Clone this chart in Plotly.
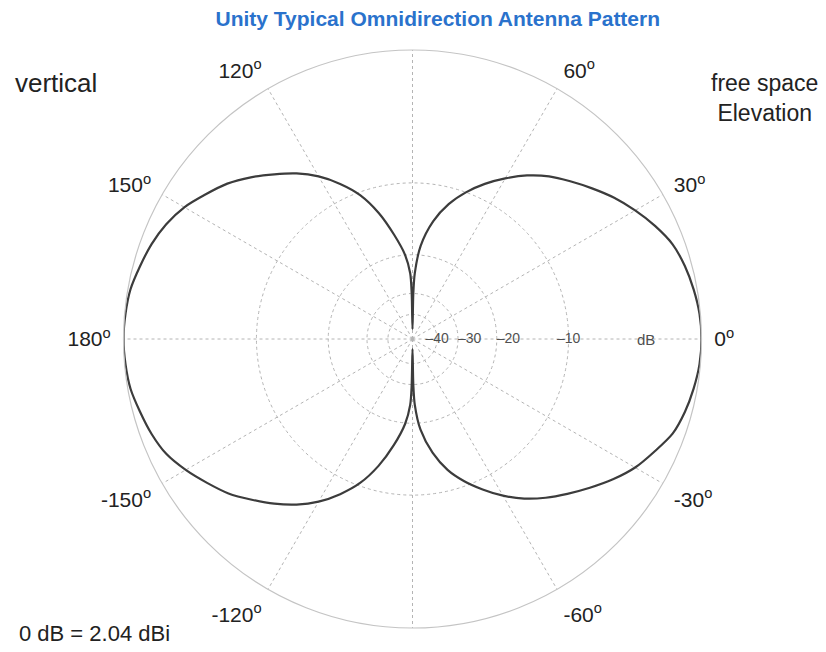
import plotly.graph_objects as go

# ---- data ----
angle_deg = [0, 5, 10, 15, 20, 25, 30, 35, 40, 45, 50, 55, 60, 65, 70, 75, 80, 85, 88, 89, 90,
             91, 92, 95, 100, 105, 110, 115, 120, 125, 130, 135, 140, 145, 150, 155, 160, 165, 170, 175, 180,
             185, 190, 195, 200, 205, 210, 215, 220, 225, 230, 235, 240, 245, 250, 255, 260, 265, 268, 269, 270,
             271, 272, 275, 280, 285, 290, 295, 300, 305, 310, 315, 320, 325, 330, 335, 340, 345, 350, 355, 360]
gain_db = [0.0, -0.05, -0.2, -0.4, -0.7, -1.25, -1.9, -2.6, -3.4, -4.2, -5.0, -6.0, -7.2, -8.5, -10.0, -11.8, -14.3, -18.3, -24.0, -30.0, -55.0,
           -30.0, -24.0, -20.0, -16.3, -12.9, -10.3, -8.5, -7.0, -5.8, -4.8, -3.8, -2.9, -2.2, -1.5, -1.0, -0.65, -0.4, -0.15, -0.05, 0.0,
           -0.05, -0.15, -0.4, -0.65, -1.0, -1.6, -2.3, -3.0, -3.9, -4.8, -5.8, -7.0, -8.5, -10.3, -12.8, -16.0, -19.8, -24.0, -30.0, -55.0,
           -30.0, -24.0, -18.8, -14.9, -12.3, -10.5, -9.0, -7.6, -6.4, -5.4, -4.5, -3.6, -2.7, -1.9, -1.3, -0.7, -0.4, -0.2, -0.05, 0.0]

radial_ticks_db = [-40, -30, -20, -10, 0]
radial_tick_text = ["\u201340", "\u201330", "\u201320", "\u201310"]

angle_ticks = [0, 30, 60, 90, 120, 150, 180, 210, 240, 270, 300, 330]
angle_tick_text = ["0<sup>o</sup>", "30<sup>o</sup>", "60<sup>o</sup>", "",
                   "120<sup>o</sup>", "150<sup>o</sup>", "180<sup>o</sup>",
                   "-150<sup>o</sup>", "-120<sup>o</sup>", "", "-60<sup>o</sup>",
                   "-30<sup>o</sup>"]

# log-periodic style radial scale: each 10 dB shrinks radius by this factor
STEP = 0.54
R_MAX = 1.0


def db_to_r(db):
    return STEP ** (-db / 10.0)


r_vals = [db_to_r(v) for v in gain_db]
tick_r = [db_to_r(v) for v in radial_ticks_db]

FONT = "Liberation Sans, Arial, Helvetica, sans-serif"
GRID = "#b4b4b4"

fig = go.Figure()
fig.add_trace(go.Scatterpolar(
    r=r_vals, theta=angle_deg, mode="lines",
    line=dict(color="#3c3c3c", width=2.2, shape="spline", smoothing=0.8),
    hoverinfo="skip", showlegend=False,
))
fig.add_trace(go.Scatterpolar(
    r=tick_r[:4], theta=[0, 0, 0, 0], mode="text",
    text=radial_tick_text,
    textposition=["middle center", "middle right", "middle right", "middle center"],
    textfont=dict(family=FONT, size=14, color="#505050"),
    hoverinfo="skip", showlegend=False,
))

fig.update_layout(
    width=826, height=652,
    margin=dict(l=0, r=0, t=0, b=0),
    paper_bgcolor="white",
    title=dict(text="<b>Unity Typical Omnidirection Antenna Pattern</b>",
               x=0.53, xanchor="center", y=0.972, yanchor="middle",
               font=dict(family=FONT, size=21, color="#2a72cc")),
    polar=dict(
        domain=dict(x=[0.1489, 0.8499], y=[0.0368, 0.9233]),
        bgcolor="white",
        radialaxis=dict(
            range=[0, R_MAX], tickvals=tick_r, showticklabels=False,
            ticks="", showline=False,
            gridcolor=GRID, griddash="dot", gridwidth=1.3,
        ),
        angularaxis=dict(
            rotation=0, direction="counterclockwise",
            tickmode="array", tickvals=angle_ticks, ticktext=angle_tick_text,
            tickfont=dict(family=FONT, size=21, color="#222222"),
            ticks="outside", ticklen=8, tickcolor="rgba(0,0,0,0)",
            showline=True, linecolor="#c4c4c4", linewidth=1.2,
            gridcolor=GRID, griddash="dot", gridwidth=1.3,
        ),
    ),
    annotations=[
        dict(text="vertical", x=13 / 826, y=1 - 83 / 652, xref="paper", yref="paper",
             xanchor="left", yanchor="middle", showarrow=False,
             font=dict(family=FONT, size=26, color="#222222")),
        dict(text="free space<br>Elevation", x=764 / 826, y=1 - 98 / 652,
             xref="paper", yref="paper", xanchor="center", yanchor="middle",
             align="center", showarrow=False,
             font=dict(family=FONT, size=23, color="#222222")),
        dict(text="0 dB = 2.04 dBi", x=17 / 826, y=1 - 633 / 652,
             xref="paper", yref="paper", xanchor="left", yanchor="middle",
             showarrow=False, font=dict(family=FONT, size=22, color="#222222")),
        dict(text="dB", x=646 / 826, y=1 - 339 / 652, xref="paper", yref="paper",
             xanchor="center", yanchor="middle", showarrow=False,
             font=dict(family=FONT, size=15, color="#505050")),
    ],
)

fig.write_html("out.html", config={"displayModeBar": False},
               post_script="document.body.style.margin='0px';")
